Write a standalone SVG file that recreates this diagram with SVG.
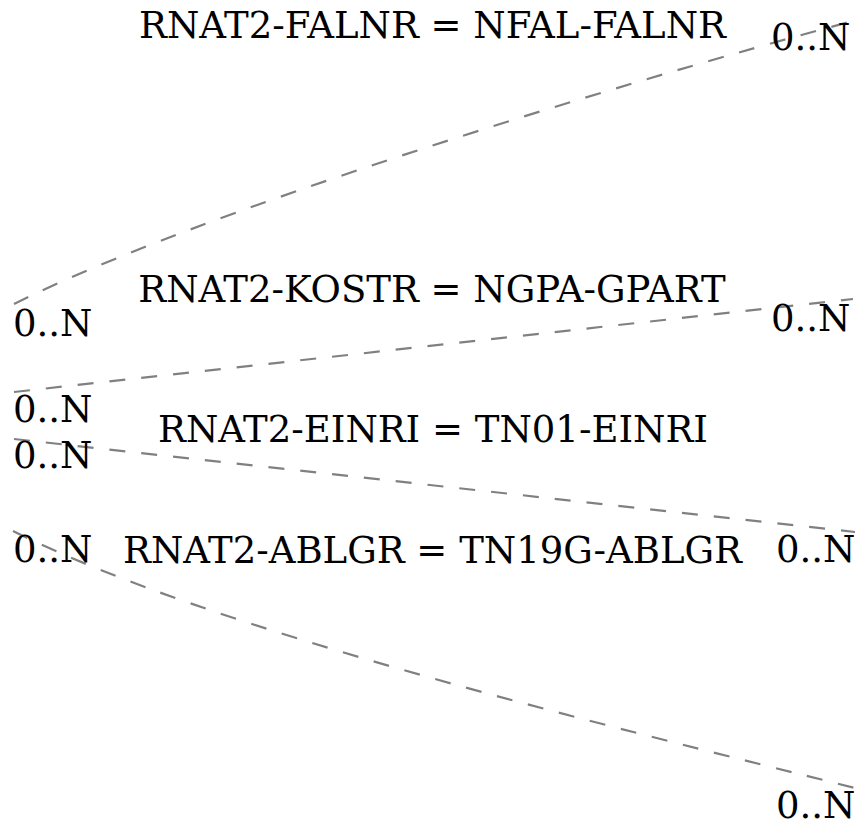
<svg xmlns="http://www.w3.org/2000/svg" width="855" height="827" viewBox="0 0 855 827">
<style>
.edge{fill:none;stroke:#808080;stroke-width:2.2;stroke-dasharray:16,16}
text{font-family:"DejaVu Serif",serif;font-size:37px;fill:#000}
.mid{text-anchor:middle}
</style>
<rect width="855" height="827" fill="#fff"/>
<g id="connectors">
<path class="edge" d="M14,304 C194,214 602,88 853,21"/>
<path class="edge" d="M14,392 L853,299"/>
<path class="edge" d="M14,439 L855,532"/>
<path class="edge" d="M13,531 C213,631 605,725 855,788"/>
</g>
<g id="rel-falnr">
<text class="mid" x="432.5" y="38">RNAT2-FALNR = NFAL-FALNR</text>
<text x="771" y="50">0..N</text>
<text x="13" y="336">0..N</text>
</g>
<g id="rel-kostr">
<text class="mid" x="432" y="302">RNAT2-KOSTR = NGPA-GPART</text>
<text x="771" y="331">0..N</text>
<text x="13" y="422">0..N</text>
</g>
<g id="rel-einri">
<text class="mid" x="433" y="442">RNAT2-EINRI = TN01-EINRI</text>
<text x="13" y="468">0..N</text>
<text x="776" y="562">0..N</text>
</g>
<g id="rel-ablgr">
<text class="mid" x="432.5" y="563">RNAT2-ABLGR = TN19G-ABLGR</text>
<text x="13" y="562">0..N</text>
<text x="776" y="818">0..N</text>
</g>
</svg>
